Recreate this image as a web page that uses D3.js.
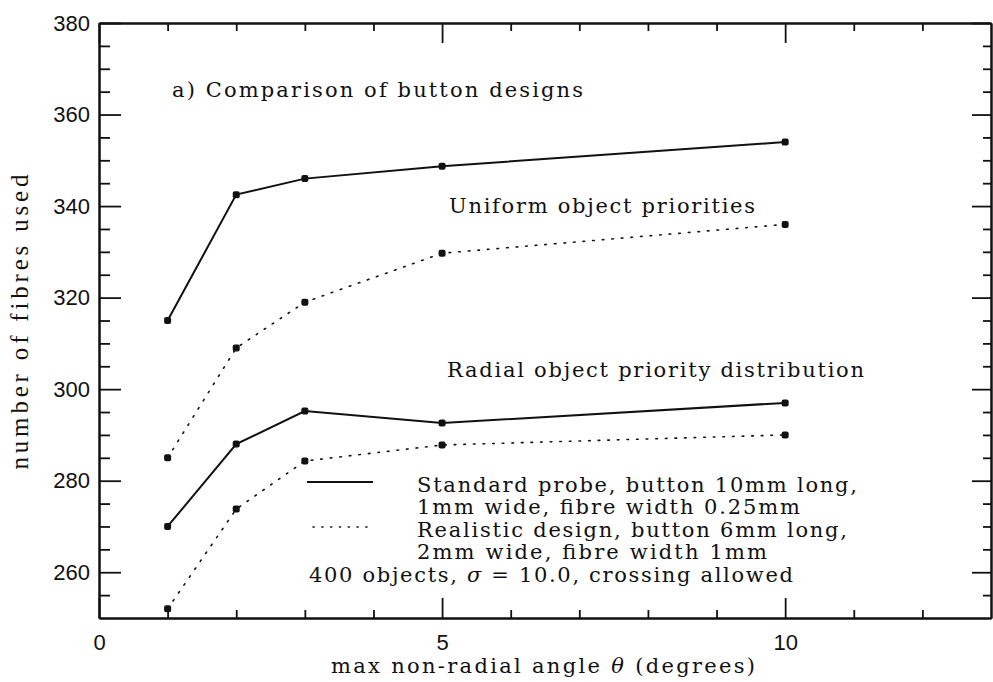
<!DOCTYPE html>
<html>
<head>
<meta charset="utf-8">
<script src="https://cdn.jsdelivr.net/npm/d3@7"></script>
<style>
  html, body { margin: 0; padding: 0; background: #fff; }
  svg { display: block; }
  .tick text { font-family: "Liberation Sans", Arial, sans-serif; font-size: 22px; fill: #111; }
  .serif { font-family: "DejaVu Serif", serif; font-size: 21px; fill: #111; }
  .greek { font-style: italic; }
</style>
</head>
<body>
<svg id="chart" width="993" height="682"></svg>
<script>
// Maximum non-radial angle (degrees) at which each configuration was run
const angles = [1, 2, 3, 5, 10];

// Number of fibres used, uniform object priorities
const uniformStandard  = [315, 342.5, 346, 348.7, 354];
const uniformRealistic = [285, 309, 319, 329.7, 336];

// Number of fibres used, radial object priority distribution
const radialStandard   = [270, 288, 295.2, 292.6, 297];
const radialRealistic  = [252, 273.8, 284.3, 287.8, 290];

// Axis ticks
const xMajorTicks = [0, 5, 10];
const xMinorTicks = [1, 2, 3, 4, 6, 7, 8, 9, 11, 12];
const yMajorTicks = [260, 280, 300, 320, 340, 360, 380];
const yMinorTicks = [255, 265, 270, 275, 285, 290, 295, 305, 310, 315, 325, 330, 335, 345, 350, 355, 365, 370, 375];

const title = "a) Comparison of button designs";
const groupLabels = ["Uniform object priorities", "Radial object priority distribution"];
const legendLines = [
  "Standard probe, button 10mm long,",
  "1mm wide, fibre width 0.25mm",
  "Realistic design, button 6mm long,",
  "2mm wide, fibre width 1mm"
];
// Text pieces; Greek symbols are set in italic
const runNote = ["400 objects, ", "\u03c3", " = 10.0, crossing allowed"];
const xTitle = ["max non-radial angle ", "\u03b8", " (degrees)"];
const yTitle = "number of fibres used";

const svg = d3.select("#chart");
const plot = { left: 99, right: 991, top: 23, bottom: 618 };

const x = d3.scaleLinear().domain([0, 13]).range([plot.left, plot.right]);
const y = d3.scaleLinear().domain([250, 380]).range([plot.bottom, plot.top]);

// Frame and ticks, all pointing inward
function styleAxis(g) {
  g.selectAll("path.domain").attr("stroke", "#111").attr("stroke-width", 2);
  g.selectAll(".tick line").attr("stroke", "#111").attr("stroke-width", 1.8);
}

svg.append("g").attr("transform", `translate(0,${plot.bottom})`)
  .call(d3.axisBottom(x).tickValues(xMajorTicks).tickSize(-20).tickSizeOuter(0).tickPadding(16).tickFormat(d3.format("d")))
  .call(styleAxis);
svg.append("g").attr("transform", `translate(0,${plot.bottom})`)
  .call(d3.axisBottom(x).tickValues(xMinorTicks).tickSize(-8).tickSizeOuter(0).tickFormat(""))
  .call(styleAxis);
svg.append("g").attr("transform", `translate(0,${plot.top})`)
  .call(d3.axisTop(x).tickValues(xMajorTicks).tickSize(-20).tickSizeOuter(0).tickFormat(""))
  .call(styleAxis);
svg.append("g").attr("transform", `translate(0,${plot.top})`)
  .call(d3.axisTop(x).tickValues(xMinorTicks).tickSize(-8).tickSizeOuter(0).tickFormat(""))
  .call(styleAxis);

svg.append("g").attr("transform", `translate(${plot.left},0)`)
  .call(d3.axisLeft(y).tickValues(yMajorTicks).tickSize(-22).tickSizeOuter(0).tickPadding(9).tickFormat(d3.format("d")))
  .call(styleAxis);
svg.append("g").attr("transform", `translate(${plot.left},0)`)
  .call(d3.axisLeft(y).tickValues(yMinorTicks).tickSize(-11).tickSizeOuter(0).tickFormat(""))
  .call(styleAxis);
svg.append("g").attr("transform", `translate(${plot.right},0)`)
  .call(d3.axisRight(y).tickValues(yMajorTicks).tickSize(-19).tickSizeOuter(0).tickFormat(""))
  .call(styleAxis);
svg.append("g").attr("transform", `translate(${plot.right},0)`)
  .call(d3.axisRight(y).tickValues(yMinorTicks).tickSize(-8).tickSizeOuter(0).tickFormat(""))
  .call(styleAxis);

// Series
const line = d3.line().x((d, i) => x(angles[i])).y(d => y(d));
const series = [
  { values: uniformStandard,  dash: null },
  { values: uniformRealistic, dash: "1.6,8" },
  { values: radialStandard,   dash: null },
  { values: radialRealistic,  dash: "1.6,8" }
];

series.forEach(s => {
  svg.append("path")
    .datum(s.values)
    .attr("d", line)
    .attr("fill", "none")
    .attr("stroke", "#111")
    .attr("stroke-width", s.dash ? 1.6 : 2)
    .attr("stroke-linecap", s.dash ? "round" : "butt")
    .attr("stroke-dasharray", s.dash);
  svg.append("g").selectAll("rect")
    .data(s.values)
    .join("rect")
    .attr("x", (d, i) => x(angles[i]) - 3.5)
    .attr("y", d => y(d) - 3.5)
    .attr("width", 7)
    .attr("height", 7)
    .attr("rx", 2)
    .attr("fill", "#111");
});

// Annotations; a piece list alternates plain and italic runs
function label(text, px, py, width) {
  const t = svg.append("text").attr("class", "serif")
    .attr("x", px).attr("y", py)
    .attr("textLength", width).attr("lengthAdjust", "spacing");
  if (Array.isArray(text)) {
    text.forEach((piece, i) => t.append("tspan").attr("class", i % 2 ? "greek" : null).text(piece));
  } else {
    t.text(text);
  }
}
label(title, 172, 97, 411);
label(groupLabels[0], 449, 213, 306);
label(groupLabels[1], 447, 377, 417);

// Legend
svg.append("line").attr("x1", 307).attr("x2", 373).attr("y1", 482).attr("y2", 482)
  .attr("stroke", "#111").attr("stroke-width", 2);
svg.append("line").attr("x1", 313).attr("x2", 368).attr("y1", 527).attr("y2", 527)
  .attr("stroke", "#111").attr("stroke-width", 1.4)
  .attr("stroke-dasharray", "1.2,7.6").attr("stroke-linecap", "round");

const legendWidths = [440, 383, 430, 350];
legendLines.forEach((t, i) => label(t, 417, 492 + i * 22.4, legendWidths[i]));
label(runNote, 309, 581.5, 484);

// Axis titles
label(xTitle, 331, 673, 424);
svg.append("text")
  .attr("transform", "translate(28,322) rotate(-90)")
  .attr("text-anchor", "middle")
  .attr("font-family", "Liberation Serif, serif")
  .attr("font-size", 25)
  .attr("textLength", 295).attr("lengthAdjust", "spacing")
  .attr("fill", "#111")
  .text(yTitle);
</script>
</body>
</html>
